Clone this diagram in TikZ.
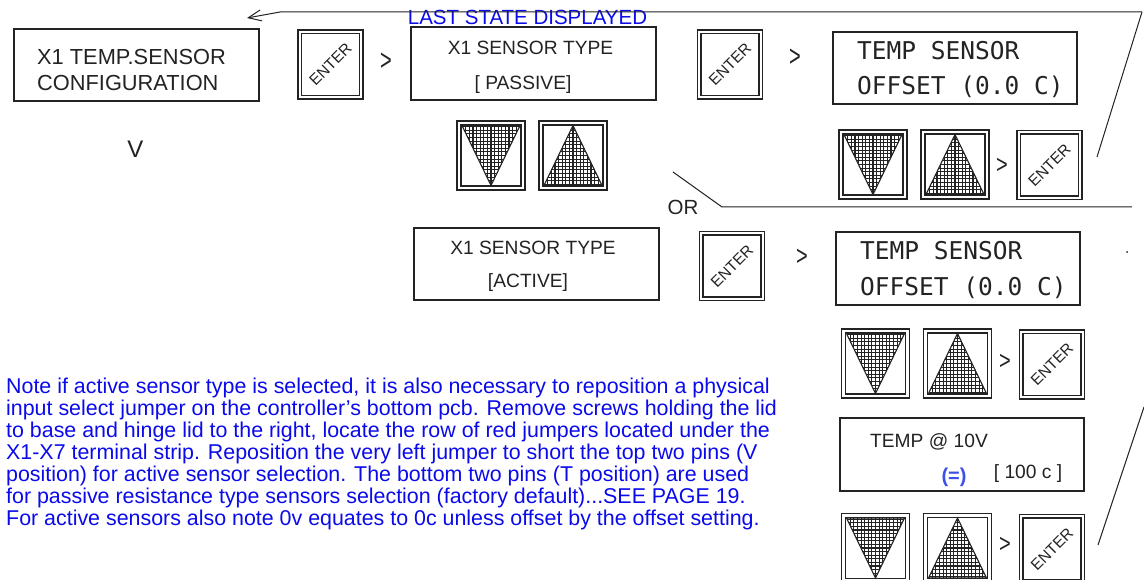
\documentclass[tikz,border=0pt]{standalone}
\usepackage{fontspec}
\setmainfont{Liberation Sans}
\newfontfamily\plotfont{DejaVu Sans Mono}
\usetikzlibrary{arrows.meta}
\definecolor{linkblue}{RGB}{10,10,235}
\definecolor{eqblue}{RGB}{60,80,235}
\definecolor{ink}{RGB}{35,35,35}
\tikzset{
  lcd/.style={draw=ink, line width=1.4pt, inner sep=0pt},
  lbl/.style={inner sep=0pt, text=ink, font=\fontsize{19.2}{22}\selectfont, anchor=base},
  bigl/.style={inner sep=0pt, text=ink, font=\fontsize{21.8}{24}\selectfont, anchor=base west},
  plot/.style={inner sep=0pt, text=ink, font=\plotfont\fontsize{24.5}{30}\selectfont, anchor=base west},
  chev/.style={inner sep=0pt, text=ink, font=\fontsize{20}{24}\selectfont},
  para/.style={inner sep=0pt, text=linkblue, align=left, font=\fontsize{21.4}{22}\selectfont},
  wire/.style={draw=ink, line width=1pt},
  outerln/.style={draw=ink, line width=1.6pt},
  innerln/.style={draw=ink, line width=1.1pt},
  gridln/.style={ink, line width=1.15pt},
  entertxt/.style={inner sep=0pt, text=ink, rotate=45, font=\fontsize{15.5}{16}\selectfont},
  enterbtn/.pic={
    \draw[outerln] (-32.5,-34.5) rectangle (32.5,34.5);
    \draw[innerln] (-29,-31) rectangle (29,31);
    \node[entertxt] at (0,0) {ENTER};
  },
  downbtn/.pic={
    \draw[outerln] (-34,-34.5) rectangle (34,34.5);
    \draw[innerln] (-30,-30.5) rectangle (30,30.5);
    \begin{scope}
      \clip (-29,-30) -- (29,-30) -- (0,30) -- cycle;
      \draw[gridln, step=3.6pt] (-31,-32) grid (31,32);
    \end{scope}
    \draw[innerln] (-29,-30) -- (29,-30) -- (0,30) -- cycle;
  },
  upbtn/.pic={
    \draw[outerln] (-34,-34.5) rectangle (34,34.5);
    \draw[innerln] (-30,-30.5) rectangle (30,30.5);
    \begin{scope}
      \clip (0,-30) -- (29,30) -- (-29,30) -- cycle;
      \draw[gridln, step=3.6pt] (-31,-32) grid (31,32);
    \end{scope}
    \draw[innerln] (0,-30) -- (29,30) -- (-29,30) -- cycle;
  }
}
\begin{document}
\begin{tikzpicture}[x=1pt,y=-1pt]
\useasboundingbox[fill=white] (0,0) rectangle (1144,580);

% display boxes
\node[lcd, minimum width=245, minimum height=72] (cfg) at (136.5,65) {};
\node[lcd, minimum width=245, minimum height=73] (pas) at (533.5,63.5) {};
\node[lcd, minimum width=244, minimum height=72] (off1) at (955,68) {};
\node[lcd, minimum width=245, minimum height=72] (act) at (536.5,264) {};
\node[lcd, minimum width=244, minimum height=73] (off2) at (958,268.5) {};
\node[lcd, minimum width=244, minimum height=73] (t10) at (962,454.5) {};

% box texts
\node[bigl] (cfga) at (37,65) {X1 TEMP.SENSOR};
\node[bigl] (cfgb) at (37,91) {CONFIGURATION};
\node[lbl] (pasa) at (530.5,55) {X1 SENSOR TYPE};
\node[lbl] (pasb) at (523,90) {[ PASSIVE]};
\node[lbl] (acta) at (533,255) {X1 SENSOR TYPE};
\node[lbl] (actb) at (528,288) {[ACTIVE]};
\node[plot] (off1a) at (857,60) {TEMP SENSOR};
\node[plot] (off1b) at (857,95) {OFFSET (0.0 C)};
\node[plot] (off2a) at (860,260) {TEMP SENSOR};
\node[plot] (off2b) at (860,295) {OFFSET (0.0 C)};
\node[lbl] (t10a) at (929,447) {TEMP @ 10V};
\node[lbl] (t10b) at (1028,478) {[ 100 c ]};
\node[inner sep=0pt, text=eqblue, font=\bfseries\fontsize{20}{22}\selectfont] (eq) at (954,477) {(=)};

% buttons
\pic at (330.5,64.5) {enterbtn};
\pic at (730,64.5) {enterbtn};
\pic at (732,266) {enterbtn};
\pic at (491,155.5) {downbtn};
\pic at (573,155.5) {upbtn};
\pic at (873,164.5) {downbtn};
\pic at (955,164.5) {upbtn};
\pic at (1049.5,165) {enterbtn};
\pic at (875.5,363.5) {downbtn};
\pic at (957.5,363.5) {upbtn};
\pic at (1052,364.5) {enterbtn};
\pic at (875.5,548) {downbtn};
\pic at (957.5,548) {upbtn};
\pic at (1052,549) {enterbtn};

% chevrons
\node[chev, yscale=1.5] (c1) at (386,62) {>};
\node[chev, yscale=1.5] (c2) at (795,58) {>};
\node[chev, yscale=1.4] (c3) at (802,257) {>};
\node[chev, yscale=1.3] (c4) at (1002,166) {>};
\node[chev, yscale=1.3] (c5) at (1005,362) {>};
\node[chev, yscale=1.3] (c6) at (1005,545) {>};
\node[inner sep=0pt, text=ink, font=\fontsize{24}{26}\selectfont] (vdown) at (135.5,149) {V};

% labels
\node[inner sep=0pt, text=linkblue, font=\fontsize{20.5}{22}\selectfont, anchor=base] (last) at (527.5,25) {LAST STATE DISPLAYED};
\node[inner sep=0pt, text=ink, font=\fontsize{20.5}{22}\selectfont, anchor=base] (or) at (683,215) {OR};

% connectors
\coordinate (tr) at (1142,12);
\coordinate (bend) at (280,12);
\coordinate (tip) at (247,18);
\coordinate (d1) at (1097,157);
\coordinate (or1) at (673,172);
\coordinate (or2) at (722,207);
\coordinate (or3) at (1132,207);
\coordinate (e2) at (1144,407);
\coordinate (d2) at (1098,545);
\draw[wire, -{Straight Barb[length=13pt,width=11pt]}] (tr) -- (bend) -- (tip);
\draw[wire] (tr) -- (d1);
\draw[wire] (or1) -- (or2) -- (or3);
\draw[wire] (e2) -- (d2);
\fill[ink] (1127,252) circle (1);

% note
\node[para, anchor=north west] (note) at (6,378) {Note if active sensor type is selected, it is also necessary to reposition a physical\\
input select jumper on the controller's bottom pcb. Remove screws holding the lid\\
to base and hinge lid to the right, locate the row of red jumpers located under the\\
X1-X7 terminal strip. Reposition the very left jumper to short the top two pins (V\\
position) for active sensor selection. The bottom two pins (T position) are used\\
for passive resistance type sensors selection (factory default)...SEE PAGE 19.\\
For active sensors also note 0v equates to 0c unless offset by the offset setting.};
\end{tikzpicture}
\end{document}
